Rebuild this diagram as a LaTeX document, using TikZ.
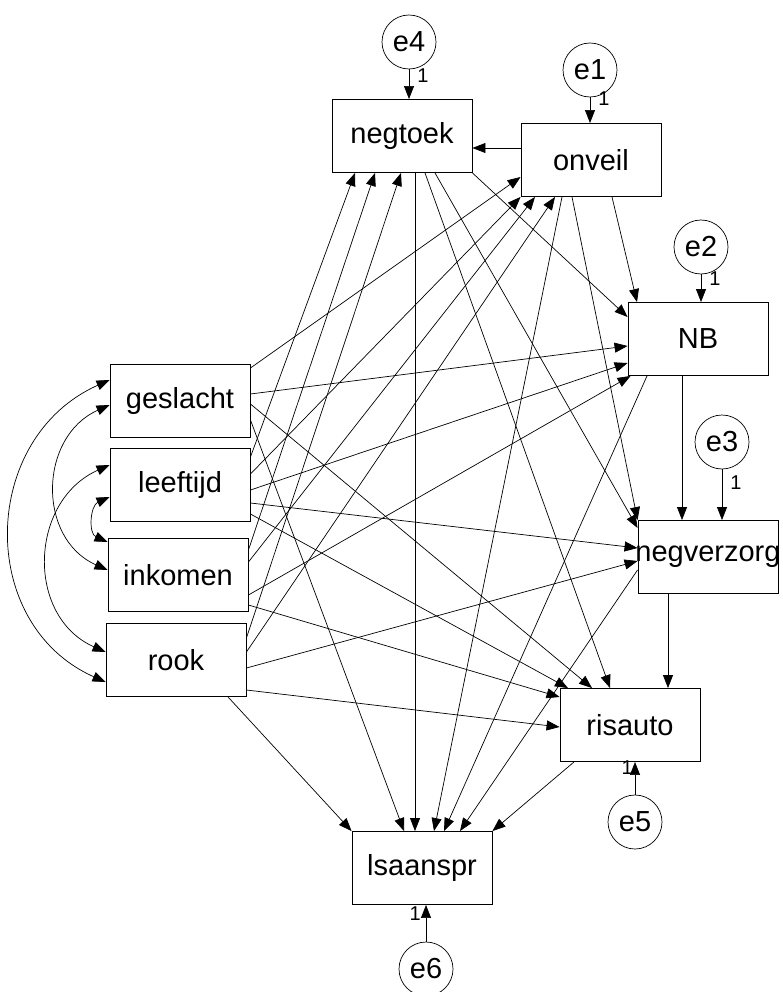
\documentclass[tikz,border=0pt]{standalone}
\usepackage{fontspec}
\setmainfont{Liberation Sans}
\usetikzlibrary{arrows.meta}

\begin{document}
\begin{tikzpicture}[
  x=1pt,y=-1pt,
  font=\fontsize{29}{33}\selectfont,
  var/.style={draw,line width=0.9pt,minimum width=140pt,minimum height=73pt,inner sep=0pt},
  err/.style={draw,circle,line width=0.7pt,minimum size=54pt,inner sep=0pt},
  arrow/.style={-{Triangle[length=13pt,width=10pt]},line width=0.7pt},
  covar/.style={{Triangle[length=13pt,width=10pt]}-{Triangle[length=13pt,width=10pt]},
                line width=0.7pt,out=204,in=156,looseness=1.2},
  lbl/.style={font=\fontsize{20}{22}\selectfont,inner sep=0pt}
]
\useasboundingbox (0,0) rectangle (782,992);

\node[var] (negtoek) at (402,136) {negtoek};
\node[var] (onveil) at (591,160) {onveil};
\node[var] (NB) at (698,339) {NB};
\node[var] (negverzorg) at (708,557) {\makebox[0pt]{negverzorg}};
\node[var] (risauto) at (630,725) {risauto};
\node[var] (lsaanspr) at (422,868) {lsaanspr};
\node[var] (geslacht) at (180,401) {geslacht};
\node[var] (leeftijd) at (180,485) {leeftijd};
\node[var] (inkomen) at (178,575) {inkomen};
\node[var] (rook) at (176,660) {rook};

\node[err] (e4) at (409,42) {e4};
\node[err] (e1) at (590,70) {e1};
\node[err] (e2) at (701,247) {e2};
\node[err] (e3) at (722,442) {e3};
\node[err] (e5) at (635,822) {e5};
\node[err] (e6) at (426,969) {e6};

\draw[arrow] (e4) -- (e4 |- negtoek.north) node[lbl,pos=0.2,right=8pt] {1};
\draw[arrow] (e1) -- (e1 |- onveil.north) node[lbl,pos=0.05,right=8pt] {1};
\draw[arrow] (e2) -- (e2 |- NB.north) node[lbl,pos=0.15,right=8pt] {1};
\draw[arrow] (e3) -- (e3 |- negverzorg.north) node[lbl,pos=0.27,right=8pt] {1};
\draw[arrow] (e5) -- (e5 |- risauto.south) node[lbl,pos=0.84,left=2pt] {1};
\draw[arrow] (e6) -- (e6 |- lsaanspr.south) node[lbl,pos=0.77,left=5pt] {1};

\draw[arrow] ([yshift=12pt]onveil.west) -- ([yshift=-12pt]negtoek.east);
\draw[arrow] ([xshift=21pt]onveil.south) -- ([xshift=-61pt]NB.north);
\draw[arrow] ([xshift=-19pt]onveil.south) -- (negverzorg.north west);
\draw[arrow] ([xshift=-29pt]onveil.south) -- ([xshift=12pt]lsaanspr.north);
\draw[arrow] (negtoek.south east) -- ([yshift=22pt]NB.west);
\draw[arrow] ([xshift=33pt]negtoek.south) -- ([yshift=29pt]negverzorg.west);
\draw[arrow] ([xshift=23pt]negtoek.south) -- ([xshift=-20pt]risauto.north);
\draw[arrow] ([xshift=13pt]negtoek.south) -- ([xshift=-7pt]lsaanspr.north);
\draw[arrow] ([xshift=-16pt]NB.south) -- ([xshift=-26pt]negverzorg.north);
\draw[arrow] ([xshift=-51pt]NB.south) -- ([xshift=22pt]lsaanspr.north);
\draw[arrow] ([xshift=-40pt]negverzorg.south) -- ([xshift=38pt]risauto.north);
\draw[arrow] ([yshift=-13pt]negverzorg.west) -- ([xshift=38pt]lsaanspr.north);
\draw[arrow] ([xshift=-56pt]risauto.south) -- (lsaanspr.north east);

\draw[arrow] ([yshift=33pt]geslacht.east) -- ([yshift=-17pt]onveil.west);
\draw[arrow] ([yshift=7pt]geslacht.east) -- ([yshift=-7pt]NB.west);
\draw[arrow] ([yshift=-3pt]geslacht.east) -- ([xshift=-38pt]risauto.north);
\draw[arrow] ([yshift=-19pt]geslacht.east) -- ([xshift=-18pt]lsaanspr.north);

\draw[arrow] ([yshift=28pt]leeftijd.east) -- ([xshift=-47pt]negtoek.south);
\draw[arrow] ([yshift=11pt]leeftijd.east) -- (onveil.south west);
\draw[arrow] ([yshift=-5pt]leeftijd.east) -- ([yshift=-24pt]NB.west);
\draw[arrow] ([yshift=-18pt]leeftijd.east) -- ([yshift=9pt]negverzorg.west);
\draw[arrow] ([yshift=-29pt]leeftijd.east) -- ([xshift=-62pt]risauto.north);

\draw[arrow] ([yshift=25pt]inkomen.east) -- ([xshift=-27pt]negtoek.south);
\draw[arrow] ([yshift=13pt]inkomen.east) -- ([xshift=-56pt]onveil.south);
\draw[arrow] ([yshift=-20pt]inkomen.east) -- ([xshift=3pt]NB.south west);
\draw[arrow] ([yshift=-30pt]inkomen.east) -- ([yshift=28pt]risauto.west);

\draw[arrow] ([yshift=22pt]rook.east) -- ([xshift=-1pt]negtoek.south);
\draw[arrow] ([yshift=8pt]rook.east) -- ([xshift=-36pt]onveil.south);
\draw[arrow] ([yshift=-8pt]rook.east) -- ([yshift=-4pt]negverzorg.west);
\draw[arrow] ([yshift=-30pt]rook.east) -- ([yshift=-2pt]risauto.west);
\draw[arrow] ([xshift=52pt]rook.south) -- (lsaanspr.north west);

\draw[covar] ([yshift=21pt]geslacht.west) to ([yshift=-22pt]rook.west);
\draw[covar] ([yshift=-4pt]geslacht.west) to ([yshift=5pt]inkomen.west);
\draw[covar] ([yshift=20pt]leeftijd.west) to ([yshift=8pt]rook.west);
\draw[covar] ([yshift=-12pt]leeftijd.west) to ([yshift=33pt]inkomen.west);
\end{tikzpicture}
\end{document}
